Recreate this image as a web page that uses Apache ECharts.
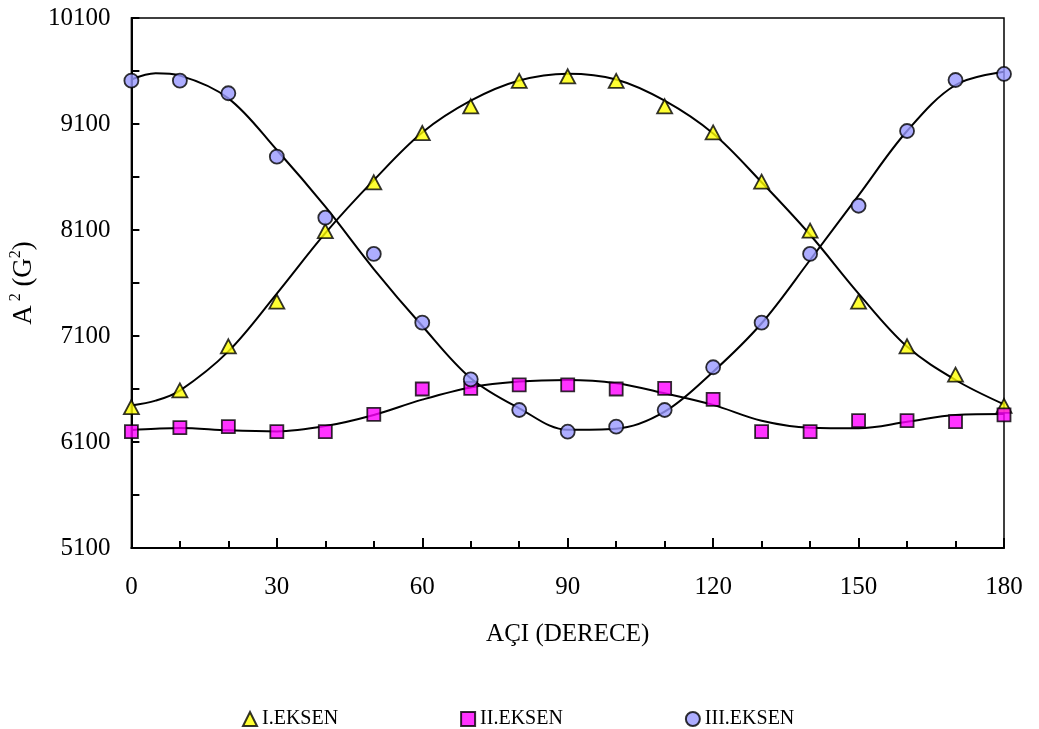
<!DOCTYPE html>
<html>
<head>
<meta charset="utf-8">
<script src="https://cdn.jsdelivr.net/npm/echarts@6/dist/echarts.min.js"></script>
<style>
html,body{margin:0;padding:0;background:#fff;}
#chart{width:1039px;height:729px;}
</style>
</head>
<body>
<div id="chart"></div>
<script>
// Measured data points
const angles = [0,10,20,30,40,50,60,70,80,90,100,110,120,130,140,150,160,170,180];
const eksen1 = [6430,6587,7003,7424,8090,8550,9015,9267,9506,9550,9506,9267,9020,8556,8094,7424,7003,6735,6440];
const eksen2 = [6197,6235,6245,6197,6197,6361,6600,6606,6638,6638,6600,6606,6503,6197,6197,6301,6301,6292,6355];
const eksen3 = [9509,9509,9390,8792,8216,7874,7226,6691,6402,6197,6245,6402,6805,7226,7874,8329,9034,9515,9572];

// Fitted curves
const curveAngles = [0,5,10,20,30,40,50,60,70,80,90,100,110,120,130,140,150,160,170,180];
const fit1 = [6445,6490,6585,6955,7500,8070,8570,9020,9320,9510,9575,9520,9320,9010,8550,8055,7500,7000,6685,6455];
const fit2 = [6213,6225,6232,6210,6200,6250,6355,6500,6615,6670,6685,6655,6560,6450,6300,6235,6230,6290,6355,6364];
const fit3 = [9520,9578,9556,9342,8855,8320,7732,7194,6701,6418,6215,6225,6386,6763,7220,7817,8427,9034,9468,9594];

const yLabels = [5100,6100,7100,8100,9100,10100];
const yTicks = [5100,5600,6100,6600,7100,7600,8100,8600,9100,9600,10100];

const names = ['I.EKSEN','II.EKSEN','III.EKSEN'];

function pairs(xs, ys){ return xs.map((x,i)=>[x, ys[i]]); }

const FONT = "'Liberation Serif','Times New Roman',serif";

const chart = echarts.init(document.getElementById('chart'), null, {renderer:'canvas'});

const curveStyle = {color:'#000', width:2};

const option = {
  animation:false,
  backgroundColor:'#fff',
  textStyle:{fontFamily:FONT, color:'#000'},
  grid:{left:129, right:35, top:18, bottom:181, show:true, borderColor:'#000', borderWidth:1.5, backgroundColor:'transparent'},
  legend:{
    data:names,
    left:237, top:704,
    itemWidth:14, itemHeight:14, itemGap:122,
    textStyle:{fontFamily:FONT, fontSize:20, color:'#000'},
    selectedMode:false
  },
  xAxis:{
    type:'value', min:0, max:180, interval:30,
    name:'AÇI (DERECE)', nameLocation:'middle', nameGap:74,
    nameTextStyle:{fontFamily:FONT, fontSize:25, color:'#000'},
    axisLine:{show:true, lineStyle:{color:'#000', width:2}},
    axisTick:{show:true, inside:true, length:10, lineStyle:{color:'#000', width:2}},
    minorTick:{show:true, splitNumber:3, length:7, lineStyle:{color:'#000', width:2}},
    splitLine:{show:false},
    axisLabel:{fontFamily:FONT, fontSize:25, color:'#000', margin:27, formatter:v=>String(v)}
  },
  yAxis:{
    type:'value', min:5100, max:10100,
    name:'{a|A}{s| 2}{a| (G}{s|2}{a|)}', nameLocation:'middle', nameGap:80, nameRotate:90,
    nameTextStyle:{rich:{
      a:{fontFamily:FONT, fontSize:27, color:'#000', verticalAlign:'bottom'},
      s:{fontFamily:FONT, fontSize:16, color:'#000', verticalAlign:'top', padding:[0,0,13,0]}
    }},
    axisLine:{show:true, lineStyle:{color:'#000', width:2}},
    axisTick:{show:true, inside:true, length:8, customValues:yTicks, lineStyle:{color:'#000', width:2}},
    splitLine:{show:false},
    axisLabel:{fontFamily:FONT, fontSize:25, color:'#000', margin:21, customValues:yLabels, formatter:v=>String(v)}
  },
  series:[
    {name:'fit1', type:'line', data:pairs(curveAngles, fit1), smooth:0.35, showSymbol:false, symbol:'none', lineStyle:curveStyle, z:2, silent:true},
    {name:'fit2', type:'line', data:pairs(curveAngles, fit2), smooth:0.35, showSymbol:false, symbol:'none', lineStyle:curveStyle, z:2, silent:true},
    {name:'fit3', type:'line', data:pairs(curveAngles, fit3), smooth:0.35, showSymbol:false, symbol:'none', lineStyle:curveStyle, z:2, silent:true},
    {name:names[0], type:'scatter', data:pairs(angles, eksen1), symbol:'triangle', symbolSize:[15,14],
      itemStyle:{color:'#FFFF00', borderColor:'#000', borderWidth:1.8}, z:5},
    {name:names[1], type:'scatter', data:pairs(angles, eksen2), symbol:'rect', symbolSize:13,
      itemStyle:{color:'#FF00FF', borderColor:'#000', borderWidth:1.8}, z:5},
    {name:names[2], type:'scatter', data:pairs(angles, eksen3), symbol:'circle', symbolSize:14,
      itemStyle:{color:'#9999FF', borderColor:'#000', borderWidth:1.8}, z:5}
  ]
};
chart.setOption(option);
</script>
</body>
</html>
